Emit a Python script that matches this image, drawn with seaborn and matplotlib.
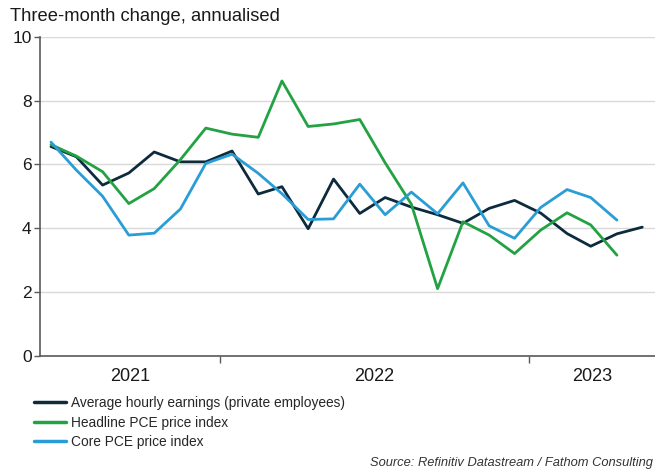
import matplotlib
matplotlib.use("Agg")
import matplotlib.pyplot as plt
import matplotlib.dates as mdates
import matplotlib.ticker as mticker
import numpy as np
import pandas as pd
import seaborn as sns

# Monthly observations, three-month change annualised (%)
months_earnings = pd.date_range("2021-06-01", periods=24, freq="MS") + pd.Timedelta(days=14)
months_pce = months_earnings[:23]

earnings = [6.56, 6.24, 5.35, 5.73, 6.39, 6.08, 6.08, 6.42, 5.07, 5.30, 3.98, 5.54,
            4.46, 4.96, 4.66, 4.42, 4.15, 4.62, 4.87, 4.47, 3.83, 3.43, 3.82, 4.03]
headline_pce = [6.62, 6.26, 5.77, 4.77, 5.24, 6.15, 7.14, 6.95, 6.85, 8.62, 7.19, 7.27,
                7.41, 6.05, 4.75, 2.10, 4.20, 3.78, 3.20, 3.94, 4.48, 4.10, 3.15]
core_pce = [6.70, 5.82, 5.00, 3.78, 3.84, 4.60, 6.03, 6.32, 5.72, 5.08, 4.27, 4.29,
            5.38, 4.42, 5.13, 4.45, 5.42, 4.07, 3.68, 4.65, 5.21, 4.96, 4.25]

series_names = ["Average hourly earnings (private employees)",
                "Headline PCE price index",
                "Core PCE price index"]
series_colors = ["#0c2b3d", "#22a243", "#2a9dd6"]
year_labels = ["2021", "2022", "2023"]
y_ticks = [0, 2, 4, 6, 8, 10]

df = pd.concat([
    pd.DataFrame({"date": months_earnings, "value": earnings, "series": series_names[0]}),
    pd.DataFrame({"date": months_pce, "value": headline_pce, "series": series_names[1]}),
    pd.DataFrame({"date": months_pce, "value": core_pce, "series": series_names[2]}),
], ignore_index=True)

sns.set_theme(style="white")
plt.rcParams["font.family"] = ["Liberation Sans", "DejaVu Sans"]

fig = plt.figure(figsize=(6.55, 4.72), dpi=100)
ax = fig.add_axes([40 / 655, 1 - 355.5 / 472, 1 - 40 / 655, (355.5 - 37) / 472])

sns.lineplot(data=df, x="date", y="value", hue="series", hue_order=series_names,
             palette=dict(zip(series_names, series_colors)), linewidth=2.0,
             ax=ax, legend=True)

x_lo = pd.Timestamp("2021-06-02")
x_hi = pd.Timestamp("2023-05-30")
ax.set_xlim(x_lo, x_hi)
ax.set_ylim(0, 10)

# y axis
ax.set_yticks(y_ticks)
ax.yaxis.grid(True, color="#d9d9d9", linewidth=1.0)
ax.xaxis.grid(False)
ax.tick_params(axis="y", which="major", direction="out", length=4, width=1,
               color="#595959", labelsize=12.5, labelcolor="#1a1a1a", pad=2, left=True)

# x axis: ticks at year boundaries, labels centred on each visible year span
bounds = [pd.Timestamp("2022-01-01"), pd.Timestamp("2023-01-01")]
edges = [x_lo] + bounds + [x_hi]
centres = [e0 + (e1 - e0) / 2 for e0, e1 in zip(edges[:-1], edges[1:])]
ax.xaxis.set_major_locator(mticker.FixedLocator(mdates.date2num(bounds)))
ax.xaxis.set_major_formatter(mticker.NullFormatter())
ax.xaxis.set_minor_locator(mticker.FixedLocator(mdates.date2num(centres)))
ax.xaxis.set_minor_formatter(mticker.FixedFormatter(year_labels))
ax.tick_params(axis="x", which="major", direction="out", length=5, width=1,
               color="#595959", bottom=True)
ax.tick_params(axis="x", which="minor", length=0, labelsize=13,
               labelcolor="#1a1a1a", pad=9)

for side in ["top", "right"]:
    ax.spines[side].set_visible(False)
for side in ["left", "bottom"]:
    ax.spines[side].set_color("#595959")
    ax.spines[side].set_linewidth(1.2)
ax.set_xlabel("")
ax.set_ylabel("")

handles, labels = ax.get_legend_handles_labels()
for h in handles:
    h.set_linewidth(2.5)
ax.legend(handles, labels, loc="upper left",
          bbox_to_anchor=(34 / 655, 1 - 396 / 472), bbox_transform=fig.transFigure,
          frameon=False, fontsize=9.9, handlelength=2.3, handletextpad=0.4,
          labelspacing=0.40, borderaxespad=0, borderpad=0)

fig.text(10 / 655, 1 - 21 / 472, "Three-month change, annualised",
         fontsize=13.2, color="#1a1a1a", va="baseline", ha="left")
fig.text(653 / 655, 1 - 466 / 472, "Source: Refinitiv Datastream / Fathom Consulting",
         fontsize=9.3, style="italic", color="#333333", va="baseline", ha="right")

fig.savefig("out.png", dpi=100)
